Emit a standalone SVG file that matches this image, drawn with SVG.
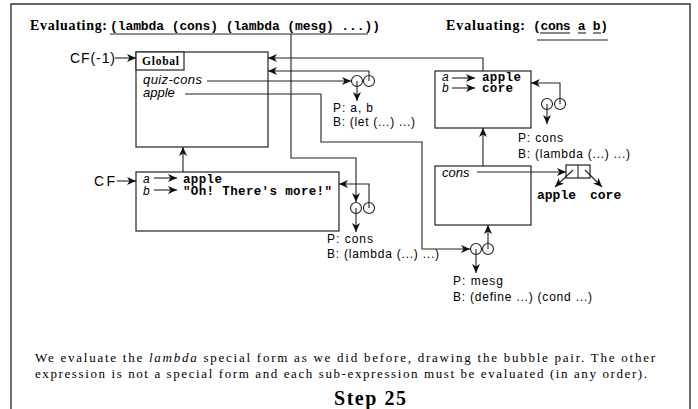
<svg xmlns="http://www.w3.org/2000/svg" width="698" height="409" viewBox="0 0 698 409">
<defs>
<marker id="ah" markerWidth="9" markerHeight="8" refX="9" refY="4" orient="auto" markerUnits="userSpaceOnUse"><path d="M0,0 L9,4 L0,8 L2.5,4 z" fill="#111"/></marker>
</defs>
<style>
.frame{fill:none;stroke:#333;stroke-width:1.4}
.box{fill:#fff;stroke:#333;stroke-width:1.3}
.ln{fill:none;stroke:#222;stroke-width:1.1}
.ar{fill:none;stroke:#222;stroke-width:1.1;marker-end:url(#ah)}
.bub{fill:#fff;stroke:#222;stroke-width:1.1}
.ttl{font-family:"Liberation Serif",serif;font-weight:bold;font-size:14px}
.code{font-family:"Liberation Mono",monospace;font-weight:bold;font-size:13px}
.fcode{font-family:"Liberation Mono",monospace;font-weight:bold;font-size:12.5px}
.var{font-family:"Liberation Sans",sans-serif;font-style:italic;font-size:13px}
.fvar{font-family:"Liberation Sans",sans-serif;font-style:italic;font-size:12px}
.lbl{font-family:"Liberation Sans",sans-serif;font-size:12px}
.cf{font-family:"Liberation Sans",sans-serif;font-size:14px}
.para{font-family:"Liberation Serif",serif;font-size:13px}
.step{font-family:"Liberation Serif",serif;font-weight:bold;font-size:20px}
.glb{font-family:"Liberation Serif",serif;font-weight:bold;font-size:11.5px}
</style>
<path class="frame" d="M11,409 V4 H690 V409"/>
<g id="titles">
<text class="ttl" x="30" y="30" textLength="77">Evaluating:</text>
<text class="code" x="110" y="30" textLength="270">(lambda (cons) (lambda (mesg) ...))</text>
<line class="ln" x1="110" y1="34" x2="368" y2="34"/>
<text class="ttl" x="446" y="30" textLength="79">Evaluating:</text>
<text class="code" x="533" y="30" textLength="75">(cons a b)</text>
<line class="ln" x1="540" y1="33" x2="570" y2="33"/>
<line class="ln" x1="578" y1="33" x2="586" y2="33"/>
<line class="ln" x1="593" y1="33" x2="601" y2="33"/>
<line class="ln" x1="537" y1="40" x2="608" y2="40"/>
</g>
<g id="global">
<rect class="box" x="136" y="52" width="132" height="95"/>
<rect class="box" x="136" y="52" width="48" height="18"/>
<text class="glb" x="142" y="65" textLength="37">Global</text>
<text class="var" x="143" y="84" textLength="59">quiz-cons</text>
<text class="var" x="143" y="97">apple</text>
<text class="cf" x="70" y="63" textLength="45">CF(-1)</text>
</g>
<g id="cf-frame">
<rect class="box" x="136" y="172" width="203" height="59"/>
<text class="cf" x="94" y="186" textLength="21">CF</text>
<text class="fvar" x="143" y="183">a</text>
<text class="fvar" x="143" y="195">b</text>
<text class="fcode" x="183" y="183" textLength="39">apple</text>
<text class="fcode" x="183" y="195" textLength="149">"Oh! There's more!"</text>
</g>
<g id="ab-frame">
<rect class="box" x="435" y="71" width="96" height="57"/>
<text class="fvar" x="442" y="81">a</text>
<text class="fvar" x="442" y="92">b</text>
<text class="fcode" x="482" y="81" textLength="39">apple</text>
<text class="fcode" x="482" y="92" textLength="31">core</text>
</g>
<g id="cons-frame">
<rect class="box" x="435" y="166" width="96" height="59"/>
<text class="var" x="442" y="177">cons</text>
</g>
<g id="pair">
<rect class="box" x="566" y="165" width="24" height="13"/>
<line class="ln" x1="578" y1="165" x2="578" y2="178"/>
<text class="code" x="537" y="199">apple</text>
<text class="code" x="590" y="199">core</text>
</g>
<g id="proc-ab">
<circle class="bub" cx="357" cy="81" r="5.5"/>
<circle class="bub" cx="369" cy="81" r="5.5"/>
<text class="lbl" x="333" y="112" textLength="40">P: a, b</text>
<text class="lbl" x="333" y="126" textLength="82">B: (let (...) ...)</text>
</g>
<g id="proc-cons1">
<circle class="bub" cx="356" cy="208" r="5.5"/>
<circle class="bub" cx="369" cy="208" r="5.5"/>
<text class="lbl" x="327" y="243" textLength="46">P: cons</text>
<text class="lbl" x="327" y="258" textLength="112">B: (lambda (...) ...)</text>
</g>
<g id="proc-cons2">
<circle class="bub" cx="547" cy="104" r="5.5"/>
<circle class="bub" cx="560" cy="104" r="5.5"/>
<text class="lbl" x="518" y="142" textLength="45">P: cons</text>
<text class="lbl" x="518" y="158" textLength="112">B: (lambda (...) ...)</text>
</g>
<g id="proc-mesg">
<circle class="bub" cx="476" cy="249" r="5.5"/>
<circle class="bub" cx="488" cy="249" r="5.5"/>
<text class="lbl" x="453" y="285" textLength="50">P: mesg</text>
<text class="lbl" x="453" y="301" textLength="139">B: (define ...) (cond ...)</text>
</g>
<g id="connectors">
<path class="ar" d="M115,58 H136"/>
<path class="ar" d="M117,181 H136"/>
<path class="ar" d="M183,172 V147"/>
<path class="ar" d="M207,81 H351"/>
<path class="ar" d="M369,81 V71 H268"/>
<path class="ar" d="M357,81 V101"/>
<path class="ar" d="M483,71 V58 H268"/>
<path class="ar" d="M185,94 H321 V142 H422 V249 H470"/>
<path class="ar" d="M291,34 V158 H356 V202"/>
<path class="ar" d="M369,208 V184 H339"/>
<path class="ar" d="M356,208 V232"/>
<path class="ar" d="M560,104 V83 H531"/>
<path class="ar" d="M547,104 V124"/>
<path class="ar" d="M483,166 V128"/>
<path class="ar" d="M477,172 H566"/>
<path class="ar" d="M573,170 L555,187"/>
<path class="ar" d="M585,170 L602,187"/>
<path class="ar" d="M488,249 V225"/>
<path class="ar" d="M476,249 V273"/>
<path class="ar" d="M154,178 H177"/>
<path class="ar" d="M154,190 H177"/>
<path class="ar" d="M452,78 H475"/>
<path class="ar" d="M452,88 H475"/>
</g>
<g id="caption">
<text class="para" x="35" y="362" textLength="620">We evaluate the <tspan font-style="italic">lambda</tspan> special form as we did before, drawing the bubble pair.  The other</text>
<text class="para" x="35" y="378" textLength="612">expression is not a special form and each sub-expression must be evaluated (in any order).</text>
<text class="step" x="334" y="405" textLength="72">Step 25</text>
</g>
</svg>
